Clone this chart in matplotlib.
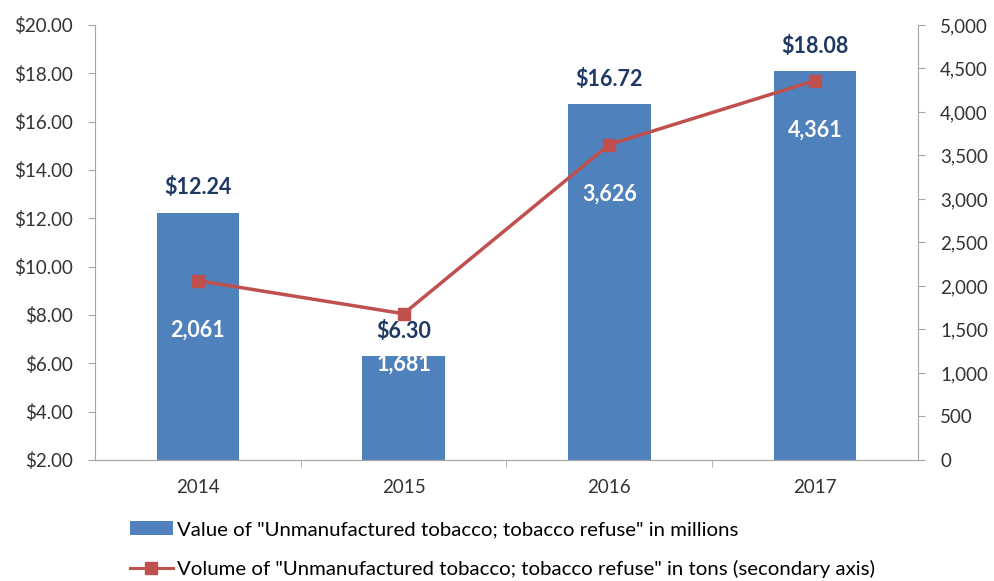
import matplotlib
matplotlib.use("Agg")
import matplotlib.pyplot as plt
from matplotlib.lines import Line2D
from matplotlib.patches import Patch

plt.rcParams['font.family'] = ['Lato', 'DejaVu Sans']

years = ['2014', '2015', '2016', '2017']
value_millions = [12.24, 6.30, 16.72, 18.08]
volume_tons = [2061, 1681, 3626, 4361]
left_ticks = [2, 4, 6, 8, 10, 12, 14, 16, 18, 20]
right_ticks = [0, 500, 1000, 1500, 2000, 2500, 3000, 3500, 4000, 4500, 5000]

bar_color = '#4F81BD'
line_color = '#C0504D'
label_dark = '#1F3864'
spine_gray = '#A6A6A6'

fig = plt.figure(figsize=(9.94, 5.81), dpi=100)
ax = fig.add_axes([0.0956, 0.2083, 0.8279, 0.7487])
x = list(range(len(years)))

ax.bar(x, [v - 2 for v in value_millions], bottom=2, width=0.4, color=bar_color, zorder=2)
ax.set_ylim(2, 20)
ax.set_xlim(-0.5, 3.5)
ax.set_yticks(left_ticks)
ax.set_yticklabels([f'${t:.2f}' for t in left_ticks])
ax.set_xticks(x)
ax.set_xticklabels(years)
ax.set_xticks([0.5, 1.5, 2.5], minor=True)

for xi, v in zip(x, value_millions):
    ax.annotate(f'${v:.2f}', (xi, v), xytext=(0, 18), textcoords='offset points',
                ha='center', va='center', fontsize=15.5, fontweight='bold', color=label_dark, zorder=5)

ax2 = ax.twinx()
ax2.plot(x, volume_tons, color=line_color, linewidth=2.5, marker='s', markersize=9, zorder=3)
ax2.set_ylim(0, 5000)
ax2.set_yticks(right_ticks)
ax2.set_yticklabels([f'{t:,}' for t in right_ticks])

for xi, v in zip(x, volume_tons):
    ax2.annotate(f'{v:,}', (xi, v), xytext=(0, -36), textcoords='offset points',
                 ha='center', va='center', fontsize=15.5, fontweight='bold', color='white', zorder=5)

for a in (ax, ax2):
    a.spines['top'].set_visible(False)
    for s in ('left', 'right', 'bottom'):
        a.spines[s].set_color(spine_gray)
    a.tick_params(colors=spine_gray, labelcolor='#333333', labelsize=13.5, length=5)
ax.spines['right'].set_visible(False)
ax2.spines['left'].set_visible(False)
ax.tick_params(axis='y', pad=11)
ax2.tick_params(axis='y', pad=11)
ax.tick_params(axis='x', length=0, pad=14)
ax.tick_params(axis='x', which='minor', length=5, color=spine_gray)

handles = [Patch(facecolor=bar_color, label='Value of "Unmanufactured tobacco; tobacco refuse" in millions'),
           Line2D([0], [0], color=line_color, linewidth=2.2, marker='s', markersize=8,
                  label='Volume of "Unmanufactured tobacco; tobacco refuse" in tons (secondary axis)')]
fig.legend(handles=handles, loc='upper left', bbox_to_anchor=(0.112, 0.135), frameon=False,
           fontsize=14.7, labelspacing=1.05, handlelength=2.1, handletextpad=0.2)

plt.savefig('out.png', dpi=100)
